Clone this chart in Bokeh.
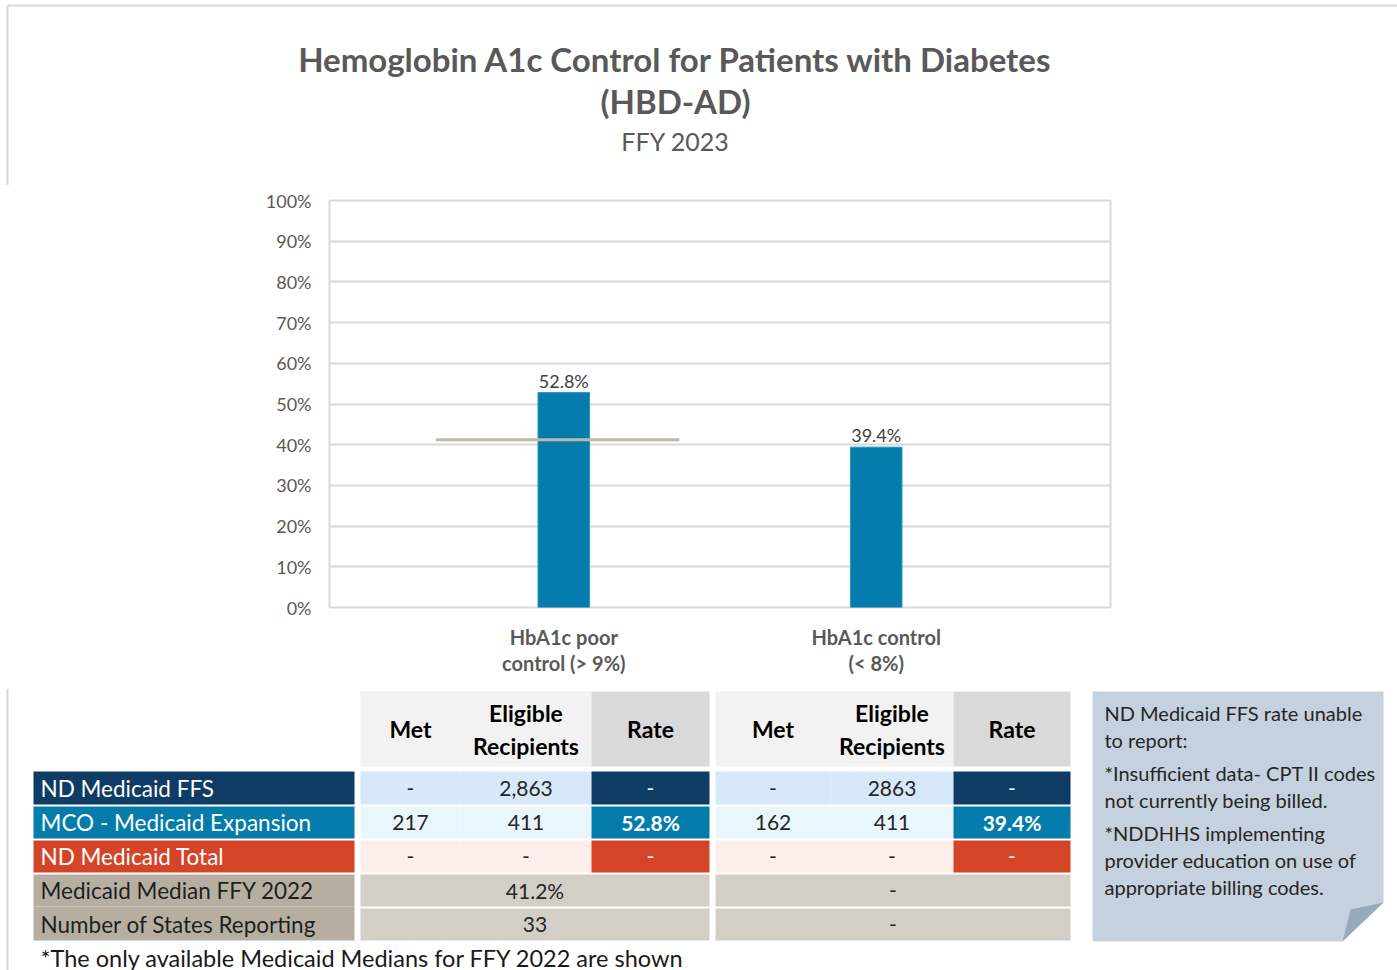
from bokeh.plotting import figure
from bokeh.models import (ColumnDataSource, FactorRange, Range1d, FixedTicker,
                          NumeralTickFormatter, LabelSet)
from bokeh.transform import dodge
from bokeh.embed import file_html
from bokeh.resources import INLINE
from bokeh.core.properties import value

# ---------------- data ----------------
title_lines = ["Hemoglobin A1c Control for Patients with Diabetes", "(HBD-AD)"]
subtitle = "FFY 2023"
categories = ["HbA1c poor\ncontrol (> 9%)", "HbA1c control\n(< 8%)"]
mco_rates = [0.528, 0.394]
median_rates = [0.412, None]
y_ticks = [0.0, 0.1, 0.2, 0.3, 0.4, 0.5, 0.6, 0.7, 0.8, 0.9, 1.0]

header_text = ["Met", "Eligible\nRecipients", "Rate"]
row_labels = ["ND Medicaid FFS", "MCO - Medicaid Expansion", "ND Medicaid Total"]
group1_met = ["-", "217", "-"]
group1_elig = ["2,863", "411", "-"]
group1_rate = ["-", "52.8%", "-"]
group2_met = ["-", "162", "-"]
group2_elig = ["2863", "411", "-"]
group2_rate = ["-", "39.4%", "-"]
median_labels = ["Medicaid Median FFY 2022", "Number of States Reporting"]
group1_median = ["41.2%", "33"]
group2_median = ["-", "-"]
note_paragraphs = [["ND Medicaid FFS rate unable", "to report:"],
                   ["*Insufficient data- CPT II codes", "not currently being billed."],
                   ["*NDDHHS implementing", "provider education on use of",
                    "appropriate billing codes."]]
footnote = "*The only available Medicaid Medians for FFY 2022 are shown"

# ---------------- style ----------------
FONT = "Lato"
GRAY = "#595959"
BAR = "#037CAB"
MEDIAN = "#BFB8AC"
GRID = "#D9D9D9"
PAGE_LINE = "#DCD8D2"
W = 1397
Y_TITLE_END = 185
Y_CHART_END = 688
Y_PAGE_END = 970


def plain_fig(y0, y1):
    f = figure(width=W, height=y1 - y0, x_range=Range1d(0, W),
               y_range=Range1d(y1, y0), output_backend="svg",
               toolbar_location=None, min_border=0)
    f.axis.visible = False
    f.grid.visible = False
    f.outline_line_color = None
    f.background_fill_color = "white"
    f.border_fill_color = "white"
    return f


# ---------------- title block ----------------
tf = plain_fig(0, Y_TITLE_END)
tf.segment(x0=[7], y0=[5], x1=[W], y1=[5], line_color=PAGE_LINE, line_width=2)
tf.segment(x0=[7], y0=[5], x1=[7], y1=[Y_TITLE_END], line_color=PAGE_LINE, line_width=2)
tf.text(x=[675, 675], y=[58, 100], text=title_lines, text_align="center",
        text_baseline="middle", text_font=value(FONT), text_font_size="33px",
        text_font_style="bold", text_color=GRAY)
tf.text(x=[675], y=[140], text=[subtitle], text_align="center",
        text_baseline="middle", text_font=value(FONT), text_font_size="25px",
        text_color=GRAY)

# ---------------- chart ----------------
p = figure(width=W, height=Y_CHART_END - Y_TITLE_END,
           x_range=FactorRange(*categories, range_padding=0.25,
                               range_padding_units="absolute"),
           y_range=Range1d(0, 1),
           output_backend="svg", toolbar_location=None,
           min_border_left=329, min_border_right=W - 1110,
           min_border_top=200 - Y_TITLE_END, min_border_bottom=Y_CHART_END - 607)
p.outline_line_color = GRID
p.outline_line_width = 2
p.xgrid.grid_line_color = None
p.ygrid.grid_line_color = GRID
p.ygrid.grid_line_width = 2
p.background_fill_color = "white"
p.border_fill_color = "white"

p.yaxis.ticker = FixedTicker(ticks=y_ticks)
p.yaxis.formatter = NumeralTickFormatter(format="0%")
p.yaxis.axis_line_color = None
p.yaxis.major_tick_line_color = None
p.yaxis.minor_tick_line_color = None
p.yaxis.major_tick_out = 0
p.yaxis.major_tick_in = 0
p.yaxis.major_label_standoff = 18
p.yaxis.major_label_text_font = FONT
p.yaxis.major_label_text_font_size = "18px"
p.yaxis.major_label_text_color = GRAY

p.xaxis.axis_line_color = None
p.xaxis.major_tick_line_color = None
p.xaxis.major_tick_out = 0
p.xaxis.major_tick_in = 0
p.xaxis.major_label_standoff = 17
p.xaxis.major_label_text_font = FONT
p.xaxis.major_label_text_font_size = "20px"
p.xaxis.major_label_text_font_style = "bold"
p.xaxis.major_label_text_color = GRAY
p.xaxis.major_label_text_line_height = 1.1

src = ColumnDataSource(dict(cat=categories, rate=mco_rates,
                            label=[f"{v*100:.1f}%" for v in mco_rates]))
p.vbar(x="cat", top="rate", width=0.165, source=src,
       fill_color=BAR, line_color="#2E93C0", line_width=1)

med_cats = [c for c, m in zip(categories, median_rates) if m is not None]
med_vals = [m for m in median_rates if m is not None]
msrc = ColumnDataSource(dict(cat=med_cats, med=med_vals))
p.segment(x0=dodge("cat", -0.41, range=p.x_range), x1=dodge("cat", 0.37, range=p.x_range),
          y0="med", y1="med", source=msrc, line_color=MEDIAN, line_width=3)

p.add_layout(LabelSet(x="cat", y="rate", text="label", source=src,
                      text_align="center", text_baseline="bottom", y_offset=1,
                      text_font=value(FONT), text_font_size="18px",
                      text_color="#404040"))

# ---------------- table ----------------
t = plain_fig(Y_CHART_END, Y_PAGE_END)

label_col = (33, 354)
groups = [[360, 460, 591, 709], [715, 830, 953, 1070]]
header_row = (691, 766)
rows = [(771, 804), (806, 838), (840, 872), (874, 906), (908, 940)]
row_fill = ["#0E3C65", "#037CAB", "#D44527"]
cell_fill = ["#D7E9F8", "#EAF6FD", "#FCEEEB"]
median_label_fill = "#B6AFA1"
median_cell_fill = "#D3CFC7"

q = dict(left=[], right=[], top=[], bottom=[], color=[])
def cell(l, r, tp, b, c):
    q["left"].append(l); q["right"].append(r)
    q["top"].append(tp); q["bottom"].append(b); q["color"].append(c)

txt = dict(x=[], y=[], text=[], color=[], style=[], align=[], size=[])
def put(x, y, s, c, st="normal", al="center", sz="21px"):
    txt["x"].append(x); txt["y"].append(y); txt["text"].append(s)
    txt["color"].append(c); txt["style"].append(st); txt["align"].append(al)
    txt["size"].append(sz)

# header
for g in groups:
    for j, h in enumerate(header_text):
        l, r = g[j], g[j + 1]
        cell(l, r, header_row[0], header_row[1], "#D9D9D9" if j == 2 else "#F2F2F2")
        lines = h.split("\n")
        mid = (header_row[0] + header_row[1]) / 2
        n = len(lines)
        for k, ln in enumerate(lines):
            put((l + r) / 2, mid + (k - (n - 1) / 2) * 33, ln, "#000000", "bold", sz="23px")

# measure rows
g1 = [group1_met, group1_elig, group1_rate]
g2 = [group2_met, group2_elig, group2_rate]
for i, lab in enumerate(row_labels):
    tp, b = rows[i]
    mid = (tp + b) / 2
    cell(label_col[0], label_col[1], tp, b, row_fill[i])
    put(label_col[0] + 7, mid, lab, "white", al="left", sz="22.5px")
    for g, vals in zip(groups, [g1, g2]):
        for j in range(3):
            l, r = g[j], g[j + 1]
            cell(l, r, tp, b, row_fill[i] if j == 2 else cell_fill[i])
            put((l + r) / 2, mid, vals[j][i], "white" if j == 2 else "#262626",
                "bold" if (j == 2 and vals[j][i] != "-") else "normal")

# median rows
for i, lab in enumerate(median_labels):
    tp, b = rows[3 + i]
    mid = (tp + b) / 2
    cell(label_col[0], label_col[1], tp - (2 if i == 1 else 0), b, median_label_fill)
    put(label_col[0] + 7, mid, lab, "#1F1F1F", al="left", sz="22.5px")
    for g, vals in zip(groups, [group1_median, group2_median]):
        cell(g[0], g[3], tp, b, median_cell_fill)
        put((g[0] + g[3]) / 2, mid, vals[i], "#262626")

t.quad(left="left", right="right", top="top", bottom="bottom",
       fill_color="color", line_color=None, source=ColumnDataSource(q))
t.text(x="x", y="y", text="text", text_color="color", text_font_style="style",
       text_align="align", text_baseline="middle", text_font=value(FONT),
       text_font_size="size", source=ColumnDataSource(txt))

t.segment(x0=[7], y0=[Y_CHART_END], x1=[7], y1=[Y_PAGE_END], line_color=PAGE_LINE, line_width=2)

# note box with folded corner
t.patch(x=[1092, 1383, 1383, 1342, 1092], y=[691, 691, 902, 941, 941],
        fill_color="#C5D1DE", line_color=None)
t.patch(x=[1350, 1383, 1342], y=[909, 902, 941], fill_color="#97AABD",
        line_color=None)
note_y = 712
nx, ny, ns = [], [], []
for para in note_paragraphs:
    for ln in para:
        nx.append(1104); ny.append(note_y); ns.append(ln)
        note_y += 27
    note_y += 6
t.text(x=nx, y=ny, text=ns, text_align="left", text_baseline="middle",
       text_font=value(FONT), text_font_size="20px", text_color="#262626")

t.text(x=[40], y=[957], text=[footnote], text_align="left",
       text_baseline="middle", text_font=value(FONT), text_font_size="23.5px",
       text_color="#1A1A1A")

open("out.html", "w").write(file_html([tf, p, t], INLINE))
